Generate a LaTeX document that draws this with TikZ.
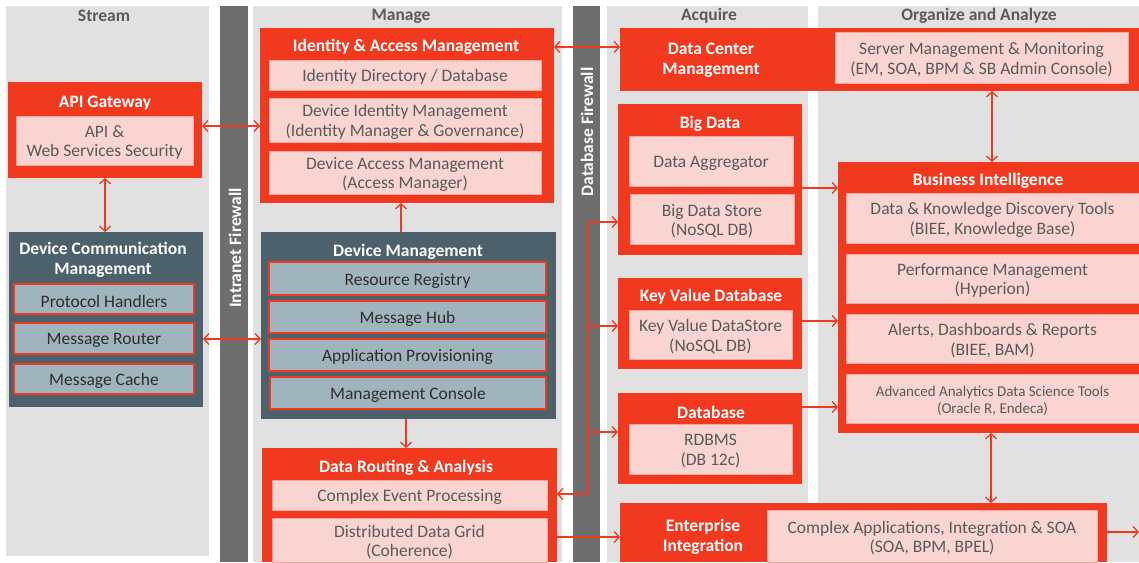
\documentclass[tikz,border=0pt]{standalone}
\usepackage{fontspec}
\setmainfont{Carlito}
\usetikzlibrary{arrows.meta}

\definecolor{ored}{RGB}{240,57,31}
\definecolor{opink}{RGB}{249,212,209}
\definecolor{opinkedge}{RGB}{244,168,158}
\definecolor{oslate}{RGB}{76,97,108}
\definecolor{ocell}{RGB}{160,180,189}
\definecolor{opanel}{RGB}{225,225,225}
\definecolor{owall}{RGB}{110,110,110}
\definecolor{otext}{RGB}{90,90,90}
\definecolor{odark}{RGB}{45,45,45}

% plain box from (x1,y1) to (x2,y2), y measured downwards
\newcommand\bx[6]{\node[#1, anchor=north west,
  minimum width={(#5-#3)*1pt}, minimum height={(#6-#4)*1pt}] (#2) at (#3,#4) {};}
% box with centred text, the text set with style "<style> text"
\newcommand\tb[7]{\bx{#1}{#2}{#3}{#4}{#5}{#6}%
  \node[#1 text] (#2-label) at ([yshift=-2pt]#2.center) {#7};}

\tikzset{
  panel/.style={fill=opanel, inner sep=0pt, outer sep=0pt},
  wall/.style={fill=owall, inner sep=0pt, outer sep=0pt},
  redbox/.style={fill=ored, inner sep=0pt, outer sep=0pt},
  slatebox/.style={fill=oslate, inner sep=0pt, outer sep=0pt},
  pinkbox/.style={fill=opink, draw=opinkedge, line width=0.6pt, inner sep=0pt, outer sep=0pt},
  pinkbox text/.style={text=otext, align=center, inner sep=0pt, font=\fontsize{17.5}{19.5}\selectfont},
  smallpink/.style={pinkbox},
  smallpink text/.style={pinkbox text, font=\fontsize{15}{17}\selectfont},
  cellbox/.style={fill=ocell, draw=ored, line width=1.6pt, inner sep=0pt, outer sep=0pt},
  cellbox text/.style={text=odark, align=center, inner sep=0pt, font=\fontsize{17.5}{19.5}\selectfont},
  title/.style={text=white, align=center, inner sep=0pt, font=\bfseries\fontsize{17.5}{19.5}\selectfont},
  head/.style={text=otext, inner sep=0pt, font=\bfseries\fontsize{17.5}{19}\selectfont},
  walltext/.style={text=white, rotate=90, inner sep=0pt, font=\bfseries\fontsize{17.5}{19}\selectfont},
  link/.style={draw=ored, line width=1.3pt, arrows={-Straight Barb[length=5pt,width=11pt]}},
  biglink/.style={draw=ored, line width=1.3pt, arrows={Straight Barb[length=5pt,width=11pt]-Straight Barb[length=5pt,width=11pt]}},
  busline/.style={draw=ored, line width=1.3pt}
}

\begin{document}
\begin{tikzpicture}[x=1pt,y=-1pt]
\useasboundingbox (0,0) rectangle (1139,562);
\fill[white] (0,0) rectangle (1139,562);

% columns and firewalls
\bx{panel}{colstream}{6}{6}{209}{556}
\bx{wall}{intranet}{220}{6}{248}{562}
\bx{panel}{colmanage}{253}{6}{562}{562}
\bx{wall}{dbwall}{573}{6}{600}{562}
\bx{panel}{colacquire}{607}{6}{808}{562}
\bx{panel}{colorganize}{818}{6}{1139}{562}

\node[head] (hstream) at (104,16) {Stream};
\node[head] (hmanage) at (401,16) {Manage};
\node[head] (hacquire) at (709,16) {Acquire};
\node[head] (horganize) at (979,16) {Organize and Analyze};

\node[walltext] (tintranet) at (235,248) {Intranet Firewall};
\node[walltext] (tdbwall) at (587,132) {Database Firewall};

% Stream
\bx{redbox}{api}{8}{82}{202}{178}
\node[title] (tapi) at (105,103) {API Gateway};
\tb{pinkbox}{apisec}{16}{116}{193}{165}{API \&\\Web Services Security}

\bx{slatebox}{dcom}{9}{232}{203}{407}
\node[title] (tdcom) at (103,260) {Device Communication\\Management};
\tb{cellbox}{proto}{14}{284}{194}{314}{Protocol Handlers}
\tb{cellbox}{router}{14}{323}{194}{354}{Message Router}
\tb{cellbox}{cache}{14}{364}{194}{394}{Message Cache}

% Manage
\bx{redbox}{iam}{260}{28}{554}{203}
\node[title] (tiam) at (406,47) {Identity \& Access Management};
\tb{pinkbox}{iddir}{269}{60}{541}{90}{Identity Directory / Database}
\tb{pinkbox}{devid}{269}{98}{541}{142}{Device Identity Management\\(Identity Manager \& Governance)}
\tb{pinkbox}{devacc}{269}{151}{541}{194}{Device Access Management\\(Access Manager)}

\bx{slatebox}{dm}{261}{232}{556}{419}
\node[title] (tdm) at (408,252) {Device Management};
\tb{cellbox}{registry}{269}{262}{546}{295}{Resource Registry}
\tb{cellbox}{hub}{269}{301}{546}{333}{Message Hub}
\tb{cellbox}{prov}{269}{339}{546}{371}{Application Provisioning}
\tb{cellbox}{console}{270}{377}{546}{409}{Management Console}

\bx{redbox}{dra}{262}{448}{557}{562}
\node[title] (tdra) at (406,468) {Data Routing \& Analysis};
\tb{pinkbox}{cep}{272}{480}{547}{510}{Complex Event Processing}
\tb{pinkbox}{ddg}{272}{518}{547}{562}{Distributed Data Grid\\(Coherence)}

% Acquire
\bx{redbox}{dcm}{620}{28}{1139}{91}
\node[title] (tdcm) at (711,60) {Data Center\\Management};
\tb{pinkbox}{srv}{835}{32}{1128}{83}{Server Management \& Monitoring\\(EM, SOA, BPM \& SB Admin Console)}

\bx{redbox}{bigdata}{618}{104}{802}{255}
\node[title] (tbig) at (710,124) {Big Data};
\tb{pinkbox}{aggr}{629}{136}{793}{186}{Data Aggregator}
\tb{pinkbox}{bdstore}{630}{194}{794}{244}{Big Data Store\\(NoSQL DB)}

\bx{redbox}{kv}{618}{278}{802}{369}
\node[title] (tkv) at (711,297) {Key Value Database};
\tb{pinkbox}{kvstore}{629}{310}{792}{359}{Key Value DataStore\\(NoSQL DB)}

\bx{redbox}{db}{618}{393}{802}{484}
\node[title] (tdb) at (711,412) {Database};
\tb{pinkbox}{rdbms}{629}{424}{792}{474}{RDBMS\\(DB 12c)}

\bx{redbox}{ei}{620}{503}{1107}{562}
\node[title] (tei) at (703,537) {Enterprise\\Integration};
\tb{pinkbox}{soa}{767}{510}{1097}{562}{Complex Applications, Integration \& SOA\\(SOA, BPM, BPEL)}

% Organize and Analyze
\bx{redbox}{bi}{838}{162}{1139}{433}
\node[title] (tbi) at (988,181) {Business Intelligence};
\tb{pinkbox}{disc}{846}{193}{1139}{243}{Data \& Knowledge Discovery Tools\\(BIEE, Knowledge Base)}
\tb{pinkbox}{perf}{846}{254}{1139}{303}{Performance Management\\(Hyperion)}
\tb{pinkbox}{alerts}{846}{314}{1139}{363}{Alerts, Dashboards \& Reports\\(BIEE, BAM)}
\tb{smallpink}{adv}{846}{374}{1139}{423}{Advanced Analytics Data Science Tools\\(Oracle R, Endeca)}

% connectors
\draw[biglink] (api.east |- 0,126) -- (iam.west |- 0,126);
\draw[biglink] (api.south -| 105,0) -- (dcom.north -| 105,0);
\draw[biglink] (dcom.east |- 0,339) -- (dm.west |- 0,339);
\draw[link] (dm.north -| 401,0) -- (iam.south -| 401,0);
\draw[link] (dm.south -| 406,0) -- (dra.north -| 406,0);
\draw[biglink] (iam.east |- 0,47) -- (dcm.west |- 0,47);

\coordinate (bustop) at (588,222);
\coordinate (busbot) at (588,494);
\draw[busline] (bustop) -- (busbot);
\draw[link] (bustop) -- (bigdata.west |- bustop);
\draw[link] (588,326) -- (kv.west |- 0,326);
\draw[link] (588,432) -- (db.west |- 0,432);
\draw[link] (busbot) -- (dra.east |- busbot);
\draw[link] (dra.east |- 0,537) -- (ei.west |- 0,537);

\draw[link] (bigdata.east |- 0,188) -- (bi.west |- 0,188);
\draw[link] (kv.east |- 0,321) -- (bi.west |- 0,321);
\draw[link] (db.east |- 0,407) -- (bi.west |- 0,407);
\draw[biglink] (dcm.south -| 992,0) -- (bi.north -| 992,0);
\draw[biglink] (bi.south -| 991,0) -- (ei.north -| 991,0);
\coordinate (eiout) at (1139,532);
\draw[link] (ei.east |- eiout) -- (eiout);
\end{tikzpicture}
\end{document}
